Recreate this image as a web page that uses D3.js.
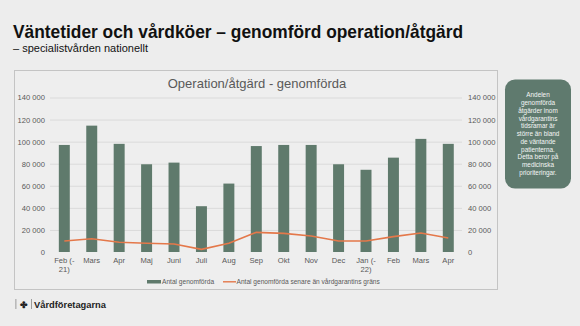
<!DOCTYPE html>
<html>
<head>
<meta charset="utf-8">
<script src="https://cdn.jsdelivr.net/npm/d3@7"></script>
<style>
  html, body { margin: 0; padding: 0; background: #ededed; }
  svg { display: block; font-family: "Liberation Sans", Arial, sans-serif; }
</style>
</head>
<body>
<svg id="chart" width="580" height="326"></svg>
<script>
// Months, first line of each axis label, second line (year suffix)
const months = ["Feb (-", "Mars", "Apr", "Maj", "Juni", "Juli", "Aug", "Sep", "Okt", "Nov", "Dec", "Jan (-", "Feb", "Mars", "Apr"];
const monthSub = ["21)", "", "", "", "", "", "", "", "", "", "", "22)", "", "", ""];
// Number of completed operations/procedures per month
const completed = [97000, 114500, 98000, 79500, 81000, 41500, 62000, 96000, 97000, 97000, 79500, 74500, 85500, 102500, 98000];
// Of those, completed later than the care-guarantee limit
const completedLate = [10000, 12000, 8800, 7900, 7300, 2400, 7900, 17800, 16900, 14500, 10000, 10000, 13900, 17200, 12700];
const yTicks = [0, 20000, 40000, 60000, 80000, 100000, 120000, 140000];
const calloutLines = ["Andelen", "genomförda", "åtgärder inom", "vårdgarantins", "tidsramar är", "större än bland", "de väntande", "patienterna.", "Detta beror på", "medicinska", "prioriteringar."];

const svg = d3.select("#chart");
const barColor = "#5f7a6c";
const lineColor = "#e4784a";
const textGray = "#595959";

// Page title
svg.append("text").attr("x", 13).attr("y", 38)
  .attr("font-size", 18.5).attr("font-weight", "bold").attr("fill", "#111")
  .attr("textLength", 450).attr("lengthAdjust", "spacingAndGlyphs")
  .text("Väntetider och vårdköer – genomförd operation/åtgärd");
svg.append("text").attr("x", 13).attr("y", 52)
  .attr("font-size", 10.5).attr("fill", "#111").attr("textLength", 135).attr("lengthAdjust", "spacingAndGlyphs")
  .text("– specialistvården nationellt");

// Chart frame
svg.append("rect").attr("x", 14.5).attr("y", 70.5).attr("width", 483).attr("height", 219)
  .attr("fill", "#eeeeee").attr("stroke", "#c4c4c4").attr("stroke-width", 1);

svg.append("text").attr("x", 257).attr("y", 87.5).attr("text-anchor", "middle")
  .attr("font-size", 13).attr("fill", textGray)
  .text("Operation/åtgärd - genomförda");

const x = d3.scaleBand().domain(d3.range(months.length)).range([50.6, 462]).paddingInner(0.6).paddingOuter(0.3);
const y = d3.scaleLinear().domain([0, 140000]).range([252, 97.5]);

// Gridlines
svg.append("g").selectAll("line").data(yTicks.slice(1)).join("line")
  .attr("x1", 50).attr("x2", 462)
  .attr("y1", d => y(d) + 0.5).attr("y2", d => y(d) + 0.5)
  .attr("stroke", "#dadada").attr("stroke-width", 1);

const fmt = d => d3.format(",")(d).replace(/,/g, " ");

// Left and right value axes
const leftAxis = svg.append("g").attr("transform", "translate(45,0)")
  .call(d3.axisLeft(y).tickValues(yTicks).tickFormat(fmt).tickSize(0).tickPadding(0));
const rightAxis = svg.append("g").attr("transform", "translate(468,0)")
  .call(d3.axisRight(y).tickValues(yTicks).tickFormat(fmt).tickSize(0).tickPadding(0));
[leftAxis, rightAxis].forEach(g => {
  g.select(".domain").remove();
  g.selectAll("text").attr("font-size", 7.6).attr("fill", textGray)
    .attr("font-family", "'Liberation Sans', Arial, sans-serif");
});

// Bars
svg.append("g").selectAll("rect").data(completed).join("rect")
  .attr("x", (d, i) => x(i)).attr("width", x.bandwidth())
  .attr("y", d => y(d)).attr("height", d => y(0) - y(d))
  .attr("fill", barColor);

// Line
const line = d3.line().x((d, i) => x(i) + x.bandwidth() / 2).y(d => y(d));
svg.append("path").datum(completedLate).attr("d", line)
  .attr("fill", "none").attr("stroke", lineColor).attr("stroke-width", 1.6)
  .attr("stroke-linejoin", "round");

// Category labels
const xl = svg.append("g").selectAll("text").data(months).join("text")
  .attr("text-anchor", "middle").attr("font-size", 7.6).attr("fill", textGray)
  .attr("x", (d, i) => x(i) + x.bandwidth() / 2).attr("y", 263);
xl.append("tspan").text(d => d);
xl.append("tspan").attr("x", (d, i) => x(i) + x.bandwidth() / 2).attr("dy", 9)
  .text((d, i) => monthSub[i]);

// Legend
const lg = svg.append("g");
lg.append("rect").attr("x", 147).attr("y", 280).attr("width", 14).attr("height", 3.5).attr("fill", barColor);
lg.append("text").attr("x", 162).attr("y", 284).attr("font-size", 6.6).attr("fill", textGray).text("Antal genomförda");
lg.append("line").attr("x1", 223).attr("x2", 236).attr("y1", 281.8).attr("y2", 281.8)
  .attr("stroke", lineColor).attr("stroke-width", 1.4);
lg.append("text").attr("x", 236.5).attr("y", 284).attr("font-size", 6.6).attr("fill", textGray)
  .text("Antal genomförda senare än vårdgarantins gräns");

// Callout box
svg.append("rect").attr("x", 505).attr("y", 79.5).attr("width", 66).attr("height", 109).attr("rx", 10)
  .attr("fill", "#5f7a6e");
svg.append("g").selectAll("text").data(calloutLines).join("text")
  .attr("x", 538).attr("y", (d, i) => 97.3 + i * 7.75).attr("text-anchor", "middle")
  .attr("font-size", 6.4).attr("fill", "#f4f6f5").text(d => d);

// Footer brand mark
const ft = svg.append("g").attr("fill", "#222");
ft.append("rect").attr("x", 15.5).attr("y", 299).attr("width", 0.8).attr("height", 10).attr("fill", "#888");
ft.append("text").attr("x", 19.5).attr("y", 307.5).attr("font-size", 9).attr("font-weight", "bold").text("✤");
ft.append("rect").attr("x", 31).attr("y", 299).attr("width", 0.8).attr("height", 10).attr("fill", "#888");
ft.append("text").attr("x", 34).attr("y", 307.5).attr("font-size", 9).attr("font-weight", "bold")
  .attr("textLength", 72).attr("lengthAdjust", "spacingAndGlyphs").text("Vårdföretagarna");
</script>
</body>
</html>
